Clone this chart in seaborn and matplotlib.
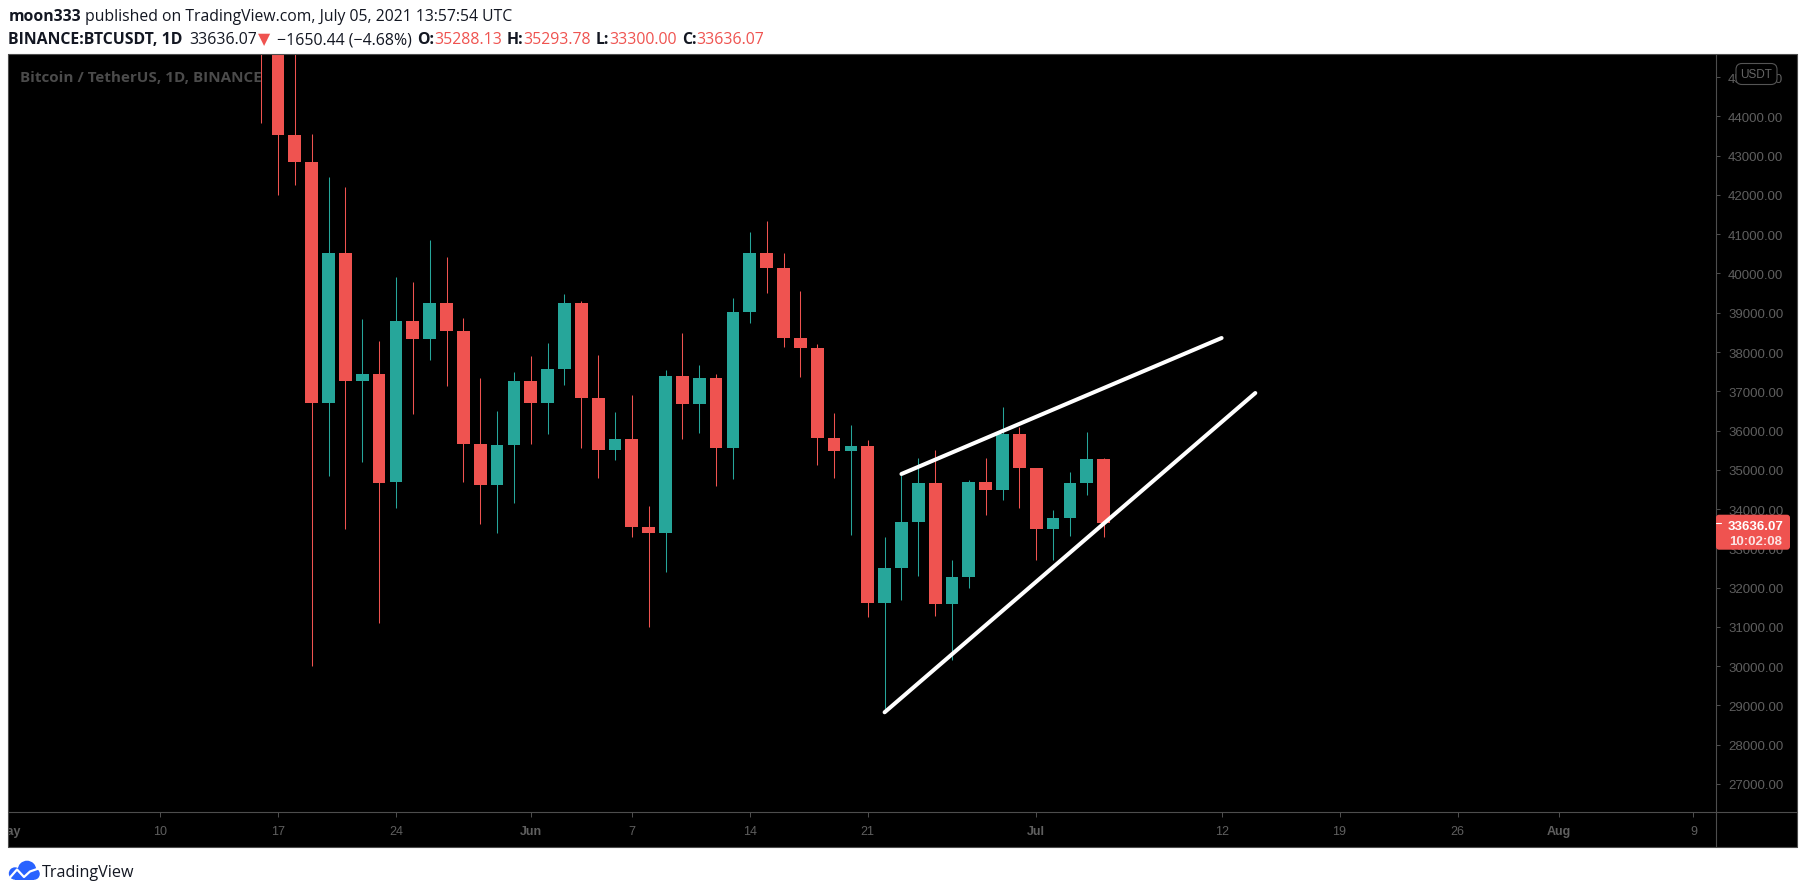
import numpy as np
import pandas as pd
import matplotlib
matplotlib.use("Agg")
import matplotlib.pyplot as plt
import matplotlib.dates as mdates
from matplotlib.patches import Rectangle, FancyBboxPatch, Circle
from matplotlib.lines import Line2D
import seaborn as sns

# ---------------- data ----------------
dates = pd.date_range("2021-05-16", "2021-07-05", freq="D")
opens = [46760, 46456, 43538, 42849, 36690, 40527, 37252, 37449, 34682, 38796, 38324, 39241, 38529, 35661, 34605, 35641,
         37253, 36694, 37568, 39246, 36829, 35516, 35797, 33556, 33380, 37388, 36677, 37331, 35546, 39021, 40516, 40143,
         38349, 38093, 35820, 35484, 35600, 31614, 32509, 33675, 34663, 31577, 32283, 34702, 34494, 35912,
         35045, 33502, 33786, 34669, 35288]
highs = [49800, 46643, 45800, 43546, 42450, 42200, 38850, 38271, 39920, 39791, 40841, 40411, 38856, 37338, 36488, 37499,
         37894, 38225, 39476, 39290, 37925, 36480, 36900, 34068, 37534, 38492, 37681, 37432, 39380, 41064, 41330, 40527,
         39560, 38202, 36457, 36137, 35750, 33298, 34881, 35298, 35500, 32700, 34749, 35297, 36600, 36100,
         35057, 33977, 34945, 35968, 35294]
lows = [43825, 42001, 42250, 30000, 34850, 33488, 35200, 31111, 34032, 36419, 37800, 37134, 34700, 33632, 33379, 34154,
        35666, 35920, 37170, 35567, 34800, 35255, 33300, 31000, 32397, 35783, 35936, 34600, 34757, 38730, 39506, 38116,
        37365, 35129, 34803, 33336, 31251, 28805, 31683, 32286, 31275, 30151, 32000, 33862, 34225, 34017,
        32711, 32700, 33316, 34357, 33300]
closes = [46456, 43538, 42849, 36690, 40527, 37252, 37449, 34655, 38796, 38324, 39241, 38529, 35663, 34605, 35641, 37254,
          36694, 37568, 39246, 36829, 35514, 35797, 33552, 33380, 37388, 36675, 37331, 35546, 39020, 40516, 40144, 38349,
          38092, 35820, 35484, 35600, 31608, 32509, 33678, 34663, 31584, 32283, 34700, 34494, 35911, 35045,
          33504, 33786, 34669, 35287, 33636]

trend_names = ["support", "support", "resistance", "resistance"]
trend_dates = ["2021-06-22", "2021-07-14", "2021-06-23", "2021-07-12"]
trend_prices = [28826, 36956, 34894, 38357]

price_ticks = list(range(27000, 45001, 1000))
time_tick_dates = ["2021-05-01", "2021-05-10", "2021-05-17", "2021-05-24", "2021-06-01", "2021-06-07", "2021-06-14",
                   "2021-06-21", "2021-07-01", "2021-07-12", "2021-07-19", "2021-07-26", "2021-08-01", "2021-08-09"]
time_tick_labels = ["May", "10", "17", "24", "Jun", "7", "14", "21", "Jul", "12", "19", "26", "Aug", "9"]
month_labels = {"May", "Jun", "Jul", "Aug"}

last_price = 33636.07
countdown = "10:02:08"

# ---------------- style ----------------
sns.set_theme(style="dark")
plt.rcParams['font.family'] = ['Open Sans', 'DejaVu Sans']

GREEN = "#26a69a"
RED = "#ef5350"
FRAME = "#4d4d4d"
LABEL = "#5f5f5f"
DARK = "#131722"
HF = ['Open Sans', 'DejaVu Sans']
AF = ['Liberation Sans', 'DejaVu Sans']

W, H, DPI = 1805, 895, 100
fig = plt.figure(figsize=(W / DPI, H / DPI), dpi=DPI, facecolor="white")
renderer = fig.canvas.get_renderer()
FT = fig.dpi_scale_trans


def inch(x, y):
    return x / DPI, (H - y) / DPI


# layout in pixels
L, PX, R = 8, 1716, 1797
T, XA, B = 55, 813, 848
Y44, PPK = 117.4, 39.27          # pixel row of 44000 and pixels per 1000
X0, PPD = 278.0, 16.85           # pixel column of 17 May and pixels per day
day0 = mdates.date2num(pd.Timestamp("2021-05-17"))

fig.add_artist(Rectangle(inch(L, B), (R - L) / DPI, (B - T) / DPI, transform=FT,
                         facecolor="black", edgecolor="none", zorder=-5))

ax = fig.add_axes([L / W, 1 - XA / H, (PX - L) / W, (XA - T) / H])
ax.set_facecolor("black")

x = mdates.date2num(dates)
o = np.array(opens, float)
c = np.array(closes, float)
hi = np.array(highs, float)
lo = np.array(lows, float)
cols = np.where(c >= o, GREEN, RED)

ax.vlines(x, lo, hi, colors=cols, linewidth=0.75, zorder=2)
ax.bar(x, np.abs(c - o), bottom=np.minimum(o, c), width=0.754, color=cols, linewidth=0, zorder=3)

tl = pd.DataFrame({"line": trend_names,
                   "x": mdates.date2num(pd.to_datetime(trend_dates)),
                   "price": trend_prices})
sns.lineplot(data=tl, x="x", y="price", units="line", estimator=None, sort=False,
             color="white", linewidth=2.9, ax=ax, solid_capstyle="round", zorder=4)
ax.set_xlabel("")
ax.set_ylabel("")

ymax = 44000 + (Y44 - T) / PPK * 1000
ymin = 44000 - (XA - Y44) / PPK * 1000
xmin = day0 + (L - X0) / PPD
xmax = day0 + (PX - X0) / PPD
ax.set_ylim(ymin, ymax)
ax.set_xlim(xmin, xmax)
ax.grid(False)
for s in ax.spines.values():
    s.set_visible(False)
ax.set_xticks([])
ax.yaxis.tick_right()
ax.set_yticks(price_ticks)
ax.set_yticklabels([f"{v:.2f}" for v in price_ticks], fontfamily=AF)
ax.tick_params(axis="y", which="both", direction="out", length=2.9, width=0.72, color=FRAME,
               labelcolor=LABEL, labelsize=9.5, pad=5.8, right=True, left=False)

# time scale strip
axt = fig.add_axes([L / W, 1 - B / H, (PX - L) / W, (B - XA) / H])
axt.set_facecolor("black")
axt.set_xlim(xmin, xmax)
axt.set_ylim(0, 1)
axt.set_yticks([])
axt.grid(False)
for s in axt.spines.values():
    s.set_visible(False)
tnum = mdates.date2num(pd.to_datetime(time_tick_dates))
axt.set_xticks(tnum)
axt.tick_params(axis="x", direction="in", top=True, bottom=False, labelbottom=False,
                length=3.6, width=0.72, color=FRAME)
for xv, lab in zip(tnum, time_tick_labels):
    axt.text(xv, (B - 835) / (B - XA), lab, ha="center", va="baseline", color=LABEL,
             fontsize=9, family=AF, fontweight="bold" if lab in month_labels else "normal", clip_on=True)

# frame lines
for (xa, ya, xb, yb) in [(L, T, R, T), (L, XA, R, XA), (L, B, R, B), (L, T, L, B), (PX, T, PX, B), (R, T, R, B)]:
    p, q = inch(xa, ya), inch(xb, yb)
    fig.add_artist(Line2D([p[0], q[0]], [p[1], q[1]], transform=FT, color=FRAME, linewidth=0.8, zorder=5))


# header text
def put(s, xp, yp, size, weight="normal", color=DARK, family=HF, ha="left"):
    return fig.text(*inch(xp, yp), s, transform=FT, fontsize=size, fontweight=weight, color=color,
                    va="baseline", ha=ha, family=family)


def run_line(items, xp, yp, size):
    sp = size * 1.389 * 0.26
    for s, wgt, col, gap in items:
        xp += gap * sp
        t = put(s, xp, yp, size, wgt, col)
        xp += t.get_window_extent(renderer).width
    return xp


line1 = [("moon333", "bold", DARK, 0), ("published on TradingView.com, July 05, 2021 13:57:54 UTC", "normal", DARK, 1)]
line2 = [("BINANCE:BTCUSDT, 1D", "bold", DARK, 0), ("33636.07", "normal", DARK, 1.6),
         ("▼", "normal", RED, 0.3), ("−1650.44 (−4.68%)", "normal", DARK, 1.6),
         ("O:", "bold", DARK, 1.2), ("35288.13", "normal", RED, 0),
         ("H:", "bold", DARK, 1.2), ("35293.78", "normal", RED, 0),
         ("L:", "bold", DARK, 1.2), ("33300.00", "normal", RED, 0),
         ("C:", "bold", DARK, 1.2), ("33636.07", "normal", RED, 0)]

run_line(line1, 8.3, 20.7, 11.3)
run_line(line2, 8.3, 44.3, 11.4)

put("Bitcoin / TetherUS, 1D, BINANCE", 20, 81.7, 11.0, "bold", "#4b4b4b")

# USDT badge
fig.add_artist(FancyBboxPatch(inch(1736, 85.5), 41 / DPI, 21 / DPI, transform=FT,
                              boxstyle="round,pad=0,rounding_size=0.06", facecolor="black",
                              edgecolor="#555555", linewidth=0.8, zorder=6))
fig.text(*inch(1756.5, 75), "USDT", transform=FT, fontsize=8.5, color="#666666", ha="center",
         va="center", family=AF, zorder=7)

# last price label
yp_last = Y44 + (44000 - last_price) / 1000 * PPK
fig.add_artist(FancyBboxPatch(inch(1716, 550.7), 74 / DPI, 35 / DPI, transform=FT,
                              boxstyle="round,pad=0,rounding_size=0.03", facecolor=RED,
                              edgecolor="none", zorder=6))
p, q = inch(1716, yp_last), inch(1721, yp_last)
fig.add_artist(Line2D([p[0], q[0]], [p[1], q[1]], transform=FT, color="white", linewidth=0.8, zorder=7))
fig.text(*inch(1755.5, 527), f"{last_price:.2f}", transform=FT, fontsize=9.5, fontweight="bold",
         color="white", ha="center", va="center", family=AF, zorder=7)
fig.text(*inch(1755.5, 542), countdown, transform=FT, fontsize=9.5, fontweight="bold",
         color="#fbe3e3", ha="center", va="center", family=AF, zorder=7)

# TradingView logo
BLUE = "#2962ff"
for (cx, cy, r) in [(15, 874.5, 6.2), (27, 871, 9.3), (34, 875, 5.8)]:
    fig.add_artist(Circle(inch(cx, cy), r / DPI, transform=FT, facecolor=BLUE, edgecolor="none", zorder=6))
fig.add_artist(Rectangle(inch(15, 880.7), 19 / DPI, 6.7 / DPI, transform=FT, facecolor=BLUE,
                         edgecolor="none", zorder=6))
zx = [10, 17, 24, 30, 38.5]
zy = [878.5, 870.5, 878, 872.5, 869.5]
pts = [inch(a, b) for a, b in zip(zx, zy)]
fig.add_artist(Line2D([p_[0] for p_ in pts], [p_[1] for p_ in pts], transform=FT, color="white",
                      linewidth=1.6, solid_joinstyle="round", zorder=7))
put("TradingView", 42, 877, 11.6, "normal", DARK)

fig.savefig("out.png", dpi=DPI, facecolor="white")
